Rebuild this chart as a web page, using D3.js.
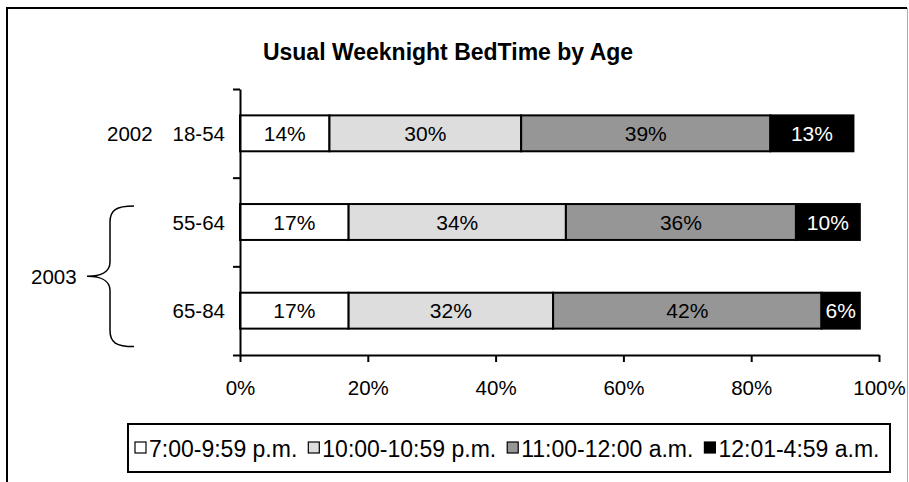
<!DOCTYPE html>
<html><head><meta charset="utf-8">
<script src="https://cdn.jsdelivr.net/npm/d3@7"></script>
<style>
body{margin:0;background:#fff;}
text{font-family:"Liberation Sans",Arial,sans-serif;}
</style></head>
<body>
<svg id="c" width="909" height="482"></svg>
<script>
const categories = ["18-54", "55-64", "65-84"];
const years = ["2002", "2003", "2003"];
const seriesNames = ["7:00-9:59 p.m.", "10:00-10:59 p.m.", "11:00-12:00 a.m.", "12:01-4:59 a.m."];
const s1 = [14, 17, 17];
const s2 = [30, 34, 32];
const s3 = [39, 36, 42];
const s4 = [13, 10, 6];
const xTicks = [0, 20, 40, 60, 80, 100];
const title = "Usual Weeknight BedTime by Age";

const colors = ["#ffffff", "#dddddd", "#969696", "#000000"];
const labelColors = ["#000", "#000", "#000", "#fff"];
const series = [s1, s2, s3, s4];

const svg = d3.select("#c");
const fs = 20.5;

// frame
svg.append("path").attr("d", "M7,490 V8 H907").attr("fill", "none").attr("stroke", "#000").attr("stroke-width", 2);
svg.append("line").attr("x1", 907.5).attr("x2", 907.5).attr("y1", 8).attr("y2", 482).attr("stroke", "#aaa").attr("stroke-width", 1);

// title
svg.append("text").attr("x", 448).attr("y", 52).attr("dominant-baseline", "central")
  .attr("text-anchor", "middle").attr("font-weight", "bold").attr("font-size", 23).text(title);

const x = d3.scaleLinear().domain([0, 100]).range([240, 879]);
const y = d3.scaleBand().domain(categories).range([89, 355]).paddingInner(0.595).paddingOuter(0.2975);
const yB = d3.scaleLinear().domain([0, categories.length]).range([89, 355]);

// stacked data
const rows = categories.map((c, i) => ({cat: c, vals: series.map(s => s[i])}));
const stack = d3.stack().keys(d3.range(series.length)).value((d, k) => d.vals[k]);
const stacked = stack(rows);

const gBars = svg.append("g");
stacked.forEach((layer, k) => {
  const g = gBars.append("g");
  g.selectAll("rect").data(layer).join("rect")
    .attr("x", d => x(d[0])).attr("width", d => x(d[1]) - x(d[0]))
    .attr("y", (d, i) => y(categories[i])).attr("height", y.bandwidth())
    .attr("fill", colors[k]).attr("stroke", "#000").attr("stroke-width", 2);
  g.selectAll("text").data(layer).join("text")
    .attr("x", d => (x(d[0]) + x(d[1])) / 2)
    .attr("y", (d, i) => y(categories[i]) + y.bandwidth() / 2)
    .attr("dominant-baseline", "central").attr("text-anchor", "middle")
    .attr("font-size", 21).attr("fill", labelColors[k])
    .text(d => (d[1] - d[0]) + "%");
});

// x axis
const xAxis = svg.append("g").attr("transform", "translate(0,355)")
  .call(d3.axisBottom(x).tickValues(xTicks).tickFormat(d => d + "%").tickSize(7).tickSizeOuter(0).tickPadding(18));
// y axis (boundary ticks)
const yAxis = svg.append("g").attr("transform", "translate(240,0)")
  .call(d3.axisLeft(yB).tickValues(d3.range(categories.length + 1)).tickFormat("").tickSize(7).tickSizeOuter(0));
[xAxis, yAxis].forEach(a => {
  a.selectAll("path,line").attr("stroke", "#000").attr("stroke-width", 2);
  a.selectAll("text").attr("font-size", fs).attr("fill", "#000").attr("font-family", "Liberation Sans, Arial, sans-serif");
});

// category labels
svg.append("g").selectAll("text").data(categories).join("text")
  .attr("x", 225).attr("y", d => y(d) + y.bandwidth() / 2)
  .attr("dominant-baseline", "central").attr("text-anchor", "end")
  .attr("font-size", fs).text(d => d);
// year 2002 label
svg.append("text").attr("x", 107).attr("y", y(categories[0]) + y.bandwidth() / 2)
  .attr("dominant-baseline", "central").attr("font-size", fs).text(years[0]);
// year 2003 group with brace
const yTop = y(categories[1]) + 2, yBot = y(categories[2]) + y.bandwidth() + 18;
const ym = (yTop + yBot) / 2;
svg.append("path").attr("fill", "none").attr("stroke", "#000").attr("stroke-width", 1.5)
  .attr("d", `M134,${yTop} C116,${yTop} 110,${yTop+4} 110,${yTop+16} V${ym-14} C110,${ym-4} 100,${ym} 87,${ym} C100,${ym} 110,${ym+4} 110,${ym+14} V${yBot-16} C110,${yBot-4} 116,${yBot} 134,${yBot}`);
svg.append("text").attr("x", 31).attr("y", ym).attr("dominant-baseline", "central")
  .attr("font-size", fs).text(years[1]);

// legend
const lg = svg.append("g");
lg.append("rect").attr("x", 128).attr("y", 424).attr("width", 762).attr("height", 48)
  .attr("fill", "#fff").attr("stroke", "#000").attr("stroke-width", 2);
let lx = 135;
seriesNames.forEach((n, k) => {
  lg.append("rect").attr("x", lx).attr("y", 442).attr("width", 11).attr("height", 11)
    .attr("fill", colors[k]).attr("stroke", "#000").attr("stroke-width", 1.2);
  const t = lg.append("text").attr("x", lx + 14).attr("y", 449).attr("dominant-baseline", "central")
    .attr("font-size", 23).text(n);
  lx += 14 + t.node().getComputedTextLength() + 11;
});
</script>
</body></html>
